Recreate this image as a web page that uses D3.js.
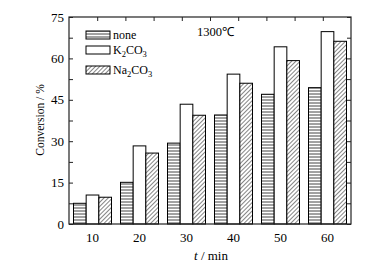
<!DOCTYPE html>
<html><head><meta charset="utf-8">
<script src="https://cdn.jsdelivr.net/npm/d3@7"></script>
<style>body{margin:0;background:#fff}svg{display:block}text{font-family:"Liberation Serif","Times New Roman",serif;fill:#000}</style>
</head><body><svg id="c" width="382" height="269"></svg>
<script>
const categories = ["10","20","30","40","50","60"];
const seriesNames = ["none","K2CO3","Na2CO3"];
const noneVals = [7.5, 15.1, 29.3, 39.5, 47.0, 49.4];
const k2co3Vals = [10.5, 28.3, 43.4, 54.3, 64.2, 69.7];
const na2co3Vals = [9.7, 25.7, 39.4, 51.0, 59.2, 66.2];
const yTicks = [0, 15, 30, 45, 60, 75];
const legendLabels = [["none"], ["K","2","CO","3"], ["Na","2","CO","3"]];

const svg = d3.select("#c");
const m = {l:69, t:17, r:351, b:224};
const x = d3.scaleBand().domain(categories).range([m.l, m.r]);
const xs = d3.scaleBand().domain(seriesNames).range([0, 38]);
const y = d3.scaleLinear().domain([0,75]).range([m.b, m.t]);

const defs = svg.append("defs");
const ph = defs.append("pattern").attr("id","hz").attr("patternUnits","userSpaceOnUse").attr("width",4).attr("height",3);
ph.append("rect").attr("width",4).attr("height",3).attr("fill","#fff");
ph.append("line").attr("x1",0).attr("x2",4).attr("y1",1).attr("y2",1).attr("stroke","#444").attr("stroke-width",1);
const pd = defs.append("pattern").attr("id","dg").attr("patternUnits","userSpaceOnUse").attr("width",3).attr("height",3).attr("patternTransform","rotate(45)");
pd.append("rect").attr("width",3).attr("height",3).attr("fill","#fff");
pd.append("line").attr("x1",0).attr("x2",0).attr("y1",0).attr("y2",3).attr("stroke","#333").attr("stroke-width",1.2);
const fills = {"none":"url(#hz)","K2CO3":"#fff","Na2CO3":"url(#dg)"};
const data = {"none":noneVals,"K2CO3":k2co3Vals,"Na2CO3":na2co3Vals};

seriesNames.forEach(s=>{
  svg.append("g").selectAll("rect").data(categories).join("rect")
    .attr("x", c=>x(c)+4.5+xs(s)).attr("width", xs.bandwidth())
    .attr("y", (c,i)=>y(data[s][i])).attr("height",(c,i)=>y(0)-y(data[s][i]))
    .attr("fill", fills[s]).attr("stroke","#000").attr("stroke-width",1);
});

svg.append("rect").attr("x",m.l).attr("y",m.t).attr("width",m.r-m.l).attr("height",m.b-m.t)
  .attr("fill","none").attr("stroke","#222").attr("stroke-width",1.2);

const minor = d3.range(0, 75.01, 7.5);
svg.append("g").attr("transform",`translate(${m.l},0)`)
  .call(d3.axisRight(y).tickValues(minor).tickSize(4).tickFormat(""))
  .call(g=>{g.select(".domain").remove(); g.selectAll("line").attr("stroke","#222");});
svg.append("g").attr("transform",`translate(${m.r},0)`)
  .call(d3.axisLeft(y).tickValues(minor).tickSize(4).tickFormat(""))
  .call(g=>{g.select(".domain").remove(); g.selectAll("line").attr("stroke","#222");});
const xt = d3.scaleLinear().domain([0,10]).range([m.l,m.r]);
svg.append("g").attr("transform",`translate(0,${m.t})`)
  .call(d3.axisBottom(xt).tickValues(d3.range(1,10)).tickSize(4).tickFormat(""))
  .call(g=>{g.select(".domain").remove(); g.selectAll("line").attr("stroke","#222");});

svg.append("g").selectAll("text").data(yTicks).join("text")
  .attr("x", 64).attr("y", d=>y(d)+4.5).attr("text-anchor","end").attr("font-size",13).text(d=>d);
svg.append("g").selectAll("text").data(categories).join("text")
  .attr("x", c=>x(c)+x.bandwidth()/2).attr("y", 242).attr("text-anchor","middle").attr("font-size",13).text(c=>c);

svg.append("text").attr("transform","translate(44,120) rotate(-90)").attr("text-anchor","middle")
  .attr("font-size",11.5).text("Conversion / %");
const xt2 = svg.append("text").attr("x",211).attr("y",260).attr("text-anchor","middle").attr("font-size",13);
xt2.append("tspan").attr("font-style","italic").text("t");
xt2.append("tspan").text(" / min");

svg.append("text").attr("x",197).attr("y",36).attr("font-size",12.5).text("1300℃");

const legY = [31, 46, 66];
seriesNames.forEach((s,i)=>{
  svg.append("rect").attr("x",86).attr("y",legY[i]).attr("width",24).attr("height",8)
    .attr("fill",fills[s]).attr("stroke","#000").attr("stroke-width",1);
  const t = svg.append("text").attr("x",113).attr("y",legY[i]+8).attr("font-size",12);
  legendLabels[i].forEach((part,j)=>{
    const sp = t.append("tspan").text(part);
    if(j%2===1){ sp.attr("font-size",8.5).attr("dy",3); }
    else if(j>0){ sp.attr("dy",-3); }
  });
});
</script></body></html>
